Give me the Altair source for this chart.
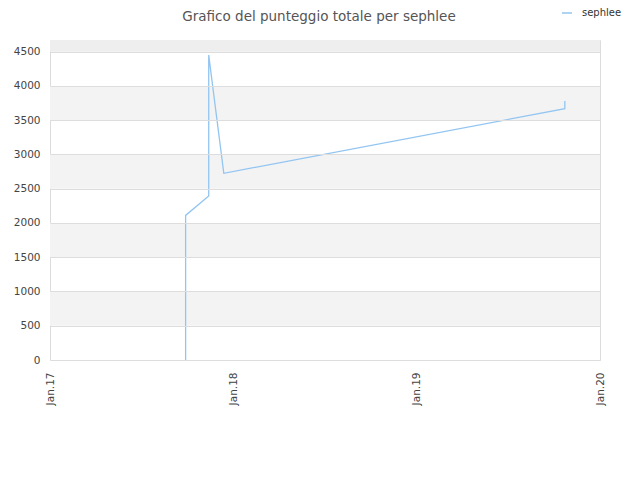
import altair as alt
import pandas as pd

# data
dates = ["2017-09-28", "2017-09-28", "2017-11-13", "2017-11-13",
         "2017-12-13", "2019-10-23", "2019-10-23"]
scores = [0, 2110, 2395, 4450, 2725, 3668, 3780]
series = "sephlee"

band_lo = [500, 1500, 2500, 3500, 4500]
band_hi = [1000, 2000, 3000, 4000, 4670]

y_max = 4670
y_ticks = [0, 500, 1000, 1500, 2000, 2500, 3000, 3500, 4000, 4500]
tick_years = [2017, 2018, 2019, 2020]

df = pd.DataFrame({"date": dates, "score": scores,
                   "order": list(range(len(dates))), "player": [series] * len(dates)})
bands = pd.DataFrame({"lo": band_lo, "hi": band_hi})

x_domain = [alt.DateTime(year=2017, month=1, date=1, utc=True),
            alt.DateTime(year=2020, month=1, date=1, utc=True)]
x_values = [alt.DateTime(year=y, month=1, date=1, utc=True) for y in tick_years]

yscale = alt.Scale(domain=[0, y_max], nice=False)
yaxis = alt.Axis(title=None, values=y_ticks, format="d", labelOverlap=False, ticks=False,
                 domain=False, grid=True, gridColor="#dddddd", zindex=1,
                 labelPadding=10, labelFontSize=10.5, labelColor="#444444",
                 labelFont="DejaVu Sans")

band_layer = alt.Chart(bands).mark_rect().encode(
    y=alt.Y("lo:Q", scale=yscale, axis=yaxis),
    y2="hi:Q",
    color=alt.condition(alt.datum.lo >= 4500, alt.value("#eeeeee"), alt.value("#f3f3f3")),
)

line_layer = alt.Chart(df).mark_line(strokeWidth=1.3).encode(
    x=alt.X("date:T",
            scale=alt.Scale(type="utc", domain=x_domain),
            axis=alt.Axis(title=None, values=x_values,
                          labelExpr="'Jan.' + utcFormat(datum.value, '%y')",
                          labelAngle=270, ticks=False, grid=False, domain=False,
                          labelOverlap=False,
                          labelPadding=12, labelFontSize=10.5, labelColor="#444444",
                          labelFont="DejaVu Sans")),
    y=alt.Y("score:Q", scale=yscale, axis=yaxis),
    order="order:Q",
    color=alt.Color("player:N", scale=alt.Scale(range=["#92c5f2"]),
                    legend=alt.Legend(title=None, orient="none", legendX=511, legendY=-33,
                                      symbolType="stroke", symbolSize=100, symbolStrokeWidth=1.5,
                                      labelFontSize=10, labelColor="#333333",
                                      labelFont="DejaVu Sans", labelOffset=9)),
)

chart = alt.layer(band_layer, line_layer).properties(
    width=550, height=320,
    padding={"left": 42, "top": 32, "right": 32, "bottom": 112},
    autosize=alt.AutoSizeParams(type="none"),
    title=alt.TitleParams("Grafico del punteggio totale per sephlee", anchor="middle",
                          font="DejaVu Sans", fontSize=13.5, fontWeight="normal",
                          color="#555555", baseline="top", offset=-16, dx=-6),
).configure_view(stroke="#dcdcdc")

chart.save("out.html", embed_options={"renderer": "svg", "actions": False})
